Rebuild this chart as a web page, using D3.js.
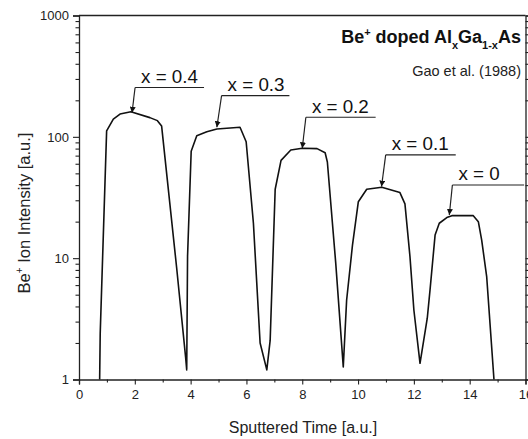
<!DOCTYPE html>
<meta charset="utf-8">
<style>
body { margin: 0; background: #fff; }
svg { display: block; font-family: Arial, "Liberation Sans", sans-serif; }
</style>
<script src="https://d3js.org/d3.v7.min.js"></script>
<body>
<div id="chart"></div>
<script>
// sputtered time [a.u.] and Be+ intensity [a.u.]
var time = [0.74, 0.76, 0.99, 1.23, 1.47, 1.86, 2.54, 2.81, 2.96, 3.50, 3.82, 3.86,
            3.89, 4.02, 4.22, 4.58, 4.94, 5.77, 5.99, 6.25, 6.49, 6.73,
            6.85, 7.03, 7.24, 7.59, 8.00, 8.53, 8.82, 8.90, 9.20, 9.47,
            9.59, 9.80, 10.01, 10.31, 10.85, 11.50, 11.68, 11.86, 12.00, 12.22,
            12.48, 12.58, 12.76, 12.91, 13.18, 13.36, 14.13, 14.31, 14.43, 14.61, 14.87];
var intensity = [1, 2.4, 112, 140, 154, 161, 144, 136, 123, 8.3, 1.53, 1.2,
                 10.4, 76, 102, 110, 116, 120, 91, 19.4, 2.0, 1.2,
                 2.1, 37, 64, 78, 80.5, 80, 74, 62, 9.1, 1.27,
                 4.5, 12.8, 29.2, 37, 38.4, 34.7, 28, 10.3, 3.74, 1.36,
                 3.2, 5.5, 15.5, 19.4, 21.6, 22.4, 22.4, 20, 14.1, 7.0, 1];

// annotations: label, arrow tip (time, intensity), elbow (time, intensity), end of leader line (time)
var annLabels = ["x = 0.4", "x = 0.3", "x = 0.2", "x = 0.1", "x = 0"];
var annTipT   = [1.90, 4.94, 8.00, 10.84, 13.27];
var annTipV   = [158, 120, 80.5, 38.9, 22.7];
var annElbowT = [2.01, 5.11, 8.13, 10.99, 13.38];
var annElbowV = [255, 219, 145, 71, 40.1];
var annEndT   = [4.48, 7.54, 10.63, 13.50, 15.95];

var xTicks = [0, 2, 4, 6, 8, 10, 12, 14, 16];
var xMinor = [1, 3, 5, 7, 9, 11, 13, 15];
var yTicks = [1, 10, 100, 1000];

var W = 528, H = 439;
var svg = d3.select("#chart").append("svg").attr("width", W).attr("height", H);

var x = d3.scaleLinear().domain([0, 16]).range([79, 525.5]);
var y = d3.scaleLog().domain([1, 1000]).range([379.5, 15.5]);

var yMinor = [];
[1, 10, 100].forEach(function(d) { for (var k = 2; k <= 9; k++) yMinor.push(d * k); });

// frame
svg.append("line").attr("x1", x(0)).attr("x2", x(16)).attr("y1", y(1000)).attr("y2", y(1000))
   .attr("stroke", "#222").attr("stroke-width", 1.3);

// bottom axis
svg.append("g").attr("transform", "translate(0," + y(1) + ")")
  .call(d3.axisBottom(x).tickValues(xTicks).tickSize(5).tickPadding(5).tickFormat(d3.format("d")));
svg.append("g").attr("transform", "translate(0," + y(1) + ")")
  .call(d3.axisBottom(x).tickValues(xMinor).tickSize(3).tickFormat(""))
  .select(".domain").remove();

// left axis
svg.append("g").attr("transform", "translate(" + x(0) + ",0)")
  .call(d3.axisLeft(y).tickValues(yTicks).tickSize(6).tickPadding(4).tickFormat(d3.format("d")));
svg.append("g").attr("transform", "translate(" + x(0) + ",0)")
  .call(d3.axisLeft(y).tickValues(yMinor).tickSize(3.5).tickFormat(""))
  .select(".domain").remove();

// right axis (mirror ticks)
svg.append("g").attr("transform", "translate(" + x(16) + ",0)")
  .call(d3.axisRight(y).tickValues(yTicks).tickSize(6).tickFormat(""));
svg.append("g").attr("transform", "translate(" + x(16) + ",0)")
  .call(d3.axisRight(y).tickValues(yMinor).tickSize(3.5).tickFormat(""))
  .select(".domain").remove();

svg.selectAll(".domain").attr("stroke", "#222").attr("stroke-width", 1.3);
svg.selectAll(".tick line").attr("stroke", "#222").attr("stroke-width", 1.1);
svg.selectAll(".tick text").attr("font-size", 13).attr("fill", "#222")
   .attr("font-family", "Arial, 'Liberation Sans', sans-serif");

// profile
var pts = time.map(function(t, i) { return [t, intensity[i]]; });
svg.append("path")
  .datum(pts)
  .attr("fill", "none")
  .attr("stroke", "#111")
  .attr("stroke-width", 1.6)
  .attr("stroke-linejoin", "round")
  .attr("d", d3.line().x(function(d) { return x(d[0]); }).y(function(d) { return y(d[1]); }));

// arrow head
svg.append("defs").append("marker")
  .attr("id", "ah").attr("viewBox", "0 0 10 10").attr("refX", 10).attr("refY", 5)
  .attr("markerWidth", 6).attr("markerHeight", 6).attr("markerUnits", "userSpaceOnUse")
  .attr("orient", "auto")
  .append("path").attr("d", "M0,0 L10,5 L0,10 z").attr("fill", "#111");

annLabels.forEach(function(lab, i) {
  var ex = x(annElbowT[i]), ey = y(annElbowV[i]);
  svg.append("line").attr("x1", ex).attr("y1", ey).attr("x2", x(annEndT[i])).attr("y2", ey)
     .attr("stroke", "#222").attr("stroke-width", 1.2);
  svg.append("line").attr("x1", ex).attr("y1", ey).attr("x2", x(annTipT[i])).attr("y2", y(annTipV[i]))
     .attr("stroke", "#222").attr("stroke-width", 1.2).attr("marker-end", "url(#ah)");
  svg.append("text").attr("x", ex + 6).attr("y", ey - 4.5)
     .attr("font-size", 18.8).attr("fill", "#111").text(lab);
});

// title
var title = svg.append("text").attr("x", 521).attr("y", 43).attr("text-anchor", "end")
  .attr("font-size", 18).attr("font-weight", "bold").attr("fill", "#111");
title.append("tspan").text("Be");
title.append("tspan").attr("font-size", 11).attr("dy", -7).text("+");
title.append("tspan").attr("dy", 7).text(" doped Al");
title.append("tspan").attr("font-size", 11).attr("dy", 6).text("x");
title.append("tspan").attr("dy", -6).text("Ga");
title.append("tspan").attr("font-size", 11).attr("dy", 6).text("1-x");
title.append("tspan").attr("dy", -6).text("As");

svg.append("text").attr("x", 521).attr("y", 76).attr("text-anchor", "end")
  .attr("font-size", 14.5).attr("fill", "#222").text("Gao et al. (1988)");

// axis titles
svg.append("text").attr("x", 303).attr("y", 433).attr("text-anchor", "middle")
  .attr("font-size", 16).attr("fill", "#222").text("Sputtered Time [a.u.]");

var yl = svg.append("text").attr("transform", "translate(30,213) rotate(-90)")
  .attr("text-anchor", "middle").attr("font-size", 16.5).attr("fill", "#222");
yl.append("tspan").text("Be");
yl.append("tspan").attr("font-size", 10).attr("dy", -7).text("+");
yl.append("tspan").attr("dy", 7).text(" Ion Intensity [a.u.]");
</script>
</body>
